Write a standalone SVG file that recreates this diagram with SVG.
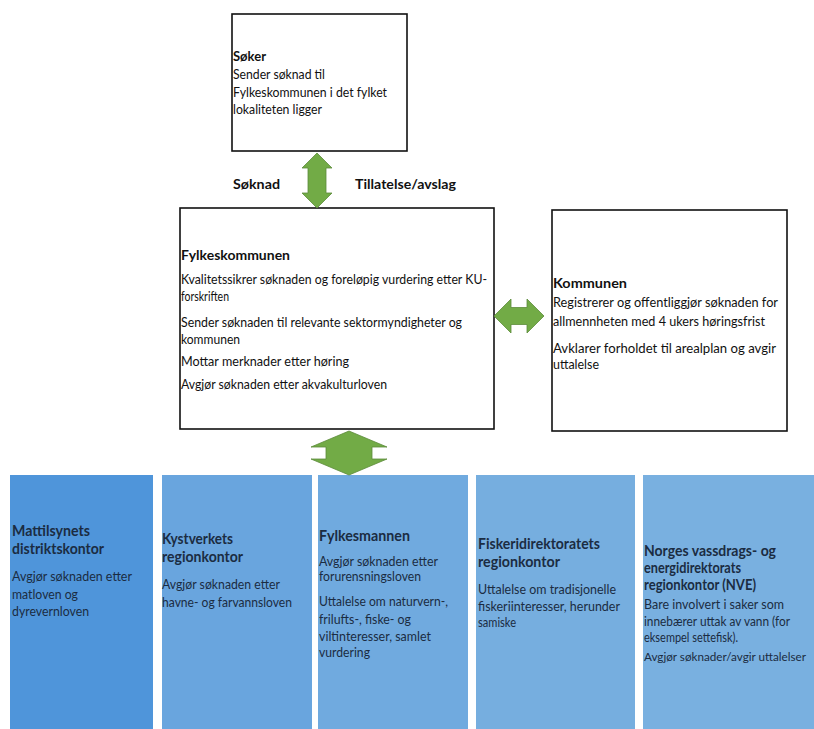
<svg xmlns="http://www.w3.org/2000/svg" width="814" height="729" viewBox="0 0 814 729">
<defs>
<style>
text{font-family:Lato,"Open Sans","Liberation Sans",sans-serif;font-size:12.5px;fill:#111}
.b{font-weight:bold;font-size:13.5px}
.bx{fill:#fff;stroke:#111;stroke-width:1.6}
.bl text{fill:#1b2c42}
.bl .b{font-size:14.5px}
.arr{fill:#72ab46;stroke:#5c8a3a;stroke-width:0.8}
</style>
</defs>
<rect width="814" height="729" fill="#fff"/>
<g id="soker">
<rect class="bx" x="232" y="14" width="175" height="137"/>
<text class="b" x="233" y="61" textLength="33" lengthAdjust="spacingAndGlyphs">Søker</text>
<text x="233" y="79" textLength="92" lengthAdjust="spacingAndGlyphs">Sender søknad til</text>
<text x="233" y="97" textLength="154" lengthAdjust="spacingAndGlyphs">Fylkeskommunen i det fylket</text>
<text x="233" y="114" textLength="89" lengthAdjust="spacingAndGlyphs">lokaliteten ligger</text>
</g>
<g id="fylkeskommunen">
<rect class="bx" x="180" y="208" width="314" height="221"/>
<text class="b" x="181" y="260" textLength="109" lengthAdjust="spacingAndGlyphs">Fylkeskommunen</text>
<text x="181" y="284" textLength="306" lengthAdjust="spacingAndGlyphs">Kvalitetssikrer søknaden og foreløpig vurdering etter KU-</text>
<text x="181" y="301" textLength="48" lengthAdjust="spacingAndGlyphs">forskriften</text>
<text x="181" y="327" textLength="281" lengthAdjust="spacingAndGlyphs">Sender søknaden til relevante sektormyndigheter og</text>
<text x="181" y="344" textLength="59" lengthAdjust="spacingAndGlyphs">kommunen</text>
<text x="181" y="366" textLength="168" lengthAdjust="spacingAndGlyphs">Mottar merknader etter høring</text>
<text x="181" y="389" textLength="206" lengthAdjust="spacingAndGlyphs">Avgjør søknaden etter akvakulturloven</text>
</g>
<g id="kommunen">
<rect class="bx" x="552" y="210" width="235" height="221"/>
<text class="b" x="553" y="288" textLength="74" lengthAdjust="spacingAndGlyphs">Kommunen</text>
<text x="553" y="307" textLength="225" lengthAdjust="spacingAndGlyphs">Registrerer og offentliggjør søknaden for</text>
<text x="553" y="326" textLength="212" lengthAdjust="spacingAndGlyphs">allmennheten med 4 ukers høringsfrist</text>
<text x="553" y="353" textLength="223" lengthAdjust="spacingAndGlyphs">Avklarer forholdet til arealplan og  avgir</text>
<text x="553" y="369" textLength="46" lengthAdjust="spacingAndGlyphs">uttalelse</text>
</g>
<g class="bl">
<g id="mattilsynet">
<rect x="10" y="475" width="143" height="254" fill="#4f95da"/>
<text class="b" x="12" y="536" textLength="78" lengthAdjust="spacingAndGlyphs">Mattilsynets</text>
<text class="b" x="12" y="554" textLength="92" lengthAdjust="spacingAndGlyphs">distriktskontor</text>
<text x="12" y="581" textLength="120" lengthAdjust="spacingAndGlyphs">Avgjør søknaden etter</text>
<text x="12" y="599" textLength="66" lengthAdjust="spacingAndGlyphs">matloven og</text>
<text x="12" y="616" textLength="77" lengthAdjust="spacingAndGlyphs">dyrevernloven</text>
</g>
<g id="kystverket">
<rect x="162" y="475" width="150" height="254" fill="#69a5de"/>
<text class="b" x="162" y="544" textLength="71" lengthAdjust="spacingAndGlyphs">Kystverkets</text>
<text class="b" x="162" y="562" textLength="81" lengthAdjust="spacingAndGlyphs">regionkontor</text>
<text x="162" y="589" textLength="118" lengthAdjust="spacingAndGlyphs">Avgjør søknaden etter</text>
<text x="162" y="607" textLength="130" lengthAdjust="spacingAndGlyphs">havne- og farvannsloven</text>
</g>
<g id="fylkesmannen">
<rect x="318" y="475" width="150" height="254" fill="#70aadf"/>
<text class="b" x="319" y="541" textLength="91" lengthAdjust="spacingAndGlyphs">Fylkesmannen</text>
<text x="319" y="566" textLength="119" lengthAdjust="spacingAndGlyphs">Avgjør søknaden etter</text>
<text x="319" y="581" textLength="102" lengthAdjust="spacingAndGlyphs">forurensningsloven</text>
<text x="319" y="606" textLength="129" lengthAdjust="spacingAndGlyphs">Uttalelse om naturvern-,</text>
<text x="319" y="624" textLength="92" lengthAdjust="spacingAndGlyphs">frilufts-, fiske- og</text>
<text x="319" y="641" textLength="112" lengthAdjust="spacingAndGlyphs">viltinteresser, samlet</text>
<text x="319" y="657" textLength="51" lengthAdjust="spacingAndGlyphs">vurdering</text>
</g>
<g id="fiskeridirektoratet">
<rect x="476" y="475" width="159" height="254" fill="#76aedf"/>
<text class="b" x="478" y="549" textLength="122" lengthAdjust="spacingAndGlyphs">Fiskeridirektoratets</text>
<text class="b" x="478" y="567" textLength="82" lengthAdjust="spacingAndGlyphs">regionkontor</text>
<text x="478" y="594" textLength="138" lengthAdjust="spacingAndGlyphs">Uttalelse om tradisjonelle</text>
<text x="478" y="611" textLength="142" lengthAdjust="spacingAndGlyphs">fiskeriinteresser, herunder</text>
<text x="478" y="627" textLength="38" lengthAdjust="spacingAndGlyphs">samiske</text>
</g>
<g id="nve">
<rect x="643" y="475" width="171" height="254" fill="#79b0e0"/>
<text class="b" x="644" y="556" textLength="132" lengthAdjust="spacingAndGlyphs">Norges vassdrags- og</text>
<text class="b" x="644" y="573" textLength="97" lengthAdjust="spacingAndGlyphs">energidirektorats</text>
<text class="b" x="644" y="590" textLength="112" lengthAdjust="spacingAndGlyphs">regionkontor (NVE)</text>
<text x="644" y="609" textLength="140" lengthAdjust="spacingAndGlyphs">Bare involvert i  saker som</text>
<text x="644" y="626" textLength="146" lengthAdjust="spacingAndGlyphs">innebærer uttak av vann (for</text>
<text x="644" y="642" textLength="94" lengthAdjust="spacingAndGlyphs">eksempel settefisk).</text>
<text x="644" y="661" style="font-size:11px" textLength="162" lengthAdjust="spacingAndGlyphs">Avgjør søknader/avgir uttalelser</text>
</g>
</g>
<g id="connectors">
<path class="arr" d="M317,153 L332,168 L326,168 L326,193 L332,193 L317,208 L302,193 L308,193 L308,168 L302,168 Z"/>
<path class="arr" d="M494,316 L511,299 L511,307.5 L527,307.5 L527,299 L544,316 L527,333 L527,324.5 L511,324.5 L511,333 Z"/>
<path class="arr" d="M349,431 L387,447 L372,447 L372,459 L387,459 L349,475 L311,459 L326,459 L326,447 L311,447 Z"/>
<text class="b" x="233" y="189" textLength="47" lengthAdjust="spacingAndGlyphs">Søknad</text>
<text class="b" x="355" y="189" textLength="101" lengthAdjust="spacingAndGlyphs">Tillatelse/avslag</text>
</g>
</svg>
